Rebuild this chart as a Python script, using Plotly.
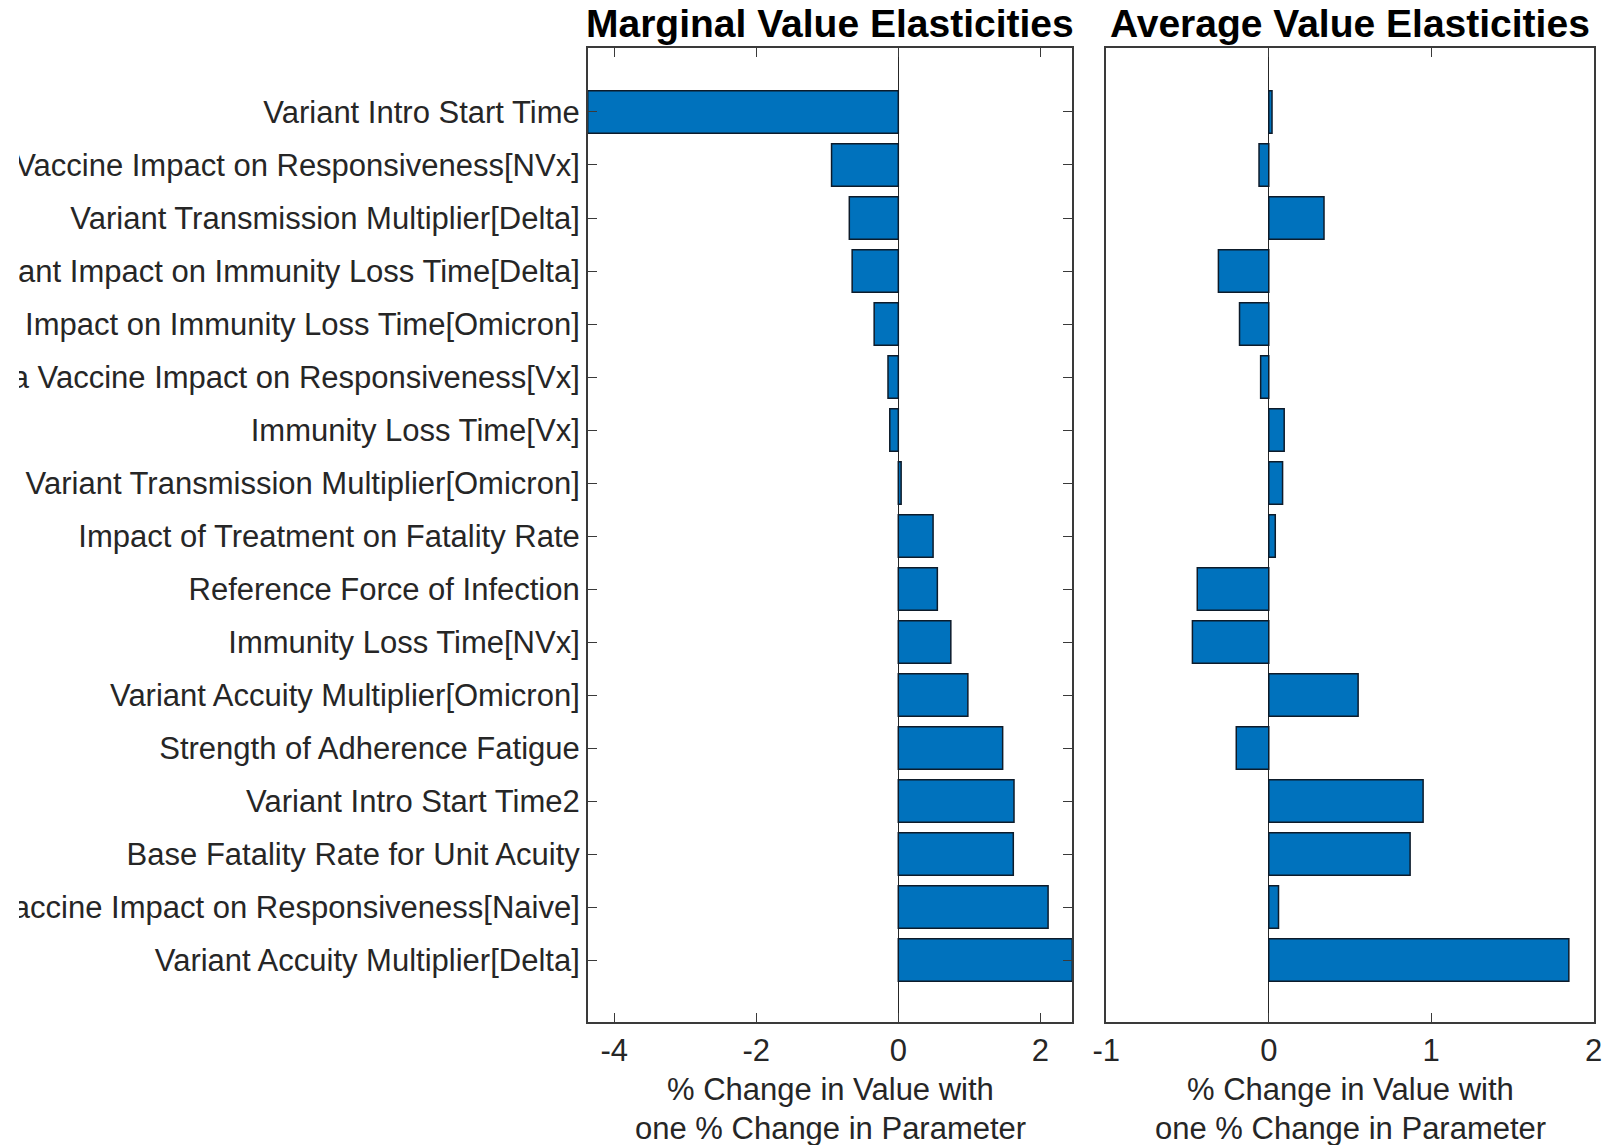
import plotly.graph_objects as go

categories = [
    "Variant Intro Start Time",
    "Vaccine Impact on Responsiveness[NVx]",
    "Variant Transmission Multiplier[Delta]",
    "ant Impact on Immunity Loss Time[Delta]",
    "Impact on Immunity Loss Time[Omicron]",
    "a Vaccine Impact on Responsiveness[Vx]",
    "Immunity Loss Time[Vx]",
    "Variant Transmission Multiplier[Omicron]",
    "Impact of Treatment on Fatality Rate",
    "Reference Force of Infection",
    "Immunity Loss Time[NVx]",
    "Variant Accuity Multiplier[Omicron]",
    "Strength of Adherence Fatigue",
    "Variant Intro Start Time2",
    "Base Fatality Rate for Unit Acuity",
    "accine Impact on Responsiveness[Naive]",
    "Variant Accuity Multiplier[Delta]",
]

marginal = [-4.375, -0.94, -0.69, -0.65, -0.34, -0.145, -0.12, 0.04, 0.49, 0.55,
            0.74, 0.98, 1.47, 1.63, 1.62, 2.11, 2.451]
average = [0.02, -0.06, 0.34, -0.31, -0.18, -0.05, 0.095, 0.085, 0.04, -0.44,
           -0.47, 0.55, -0.2, 0.95, 0.87, 0.06, 1.847]

marginal_ticks = [-4, -2, 0, 2]
marginal_ticktext = ["-4", "-2", "0", "2"]
average_ticks = [-1, 0, 1, 2]
average_ticktext = ["-1", "0", "1", "2"]

W, H = 1611, 1145
FONT = "Liberation Sans, Arial, Helvetica, sans-serif"
TXT = "#262626"
BAR = "#0072BD"
EDGE = "#0d1b2a"
AX = "#3a3a3a"

x1 = [587.7 / W, 1072.3 / W]
x2 = [1106.3 / W, 1593.7 / W]
yd = [1 - 1022.3 / H, 1 - 47.7 / H]

fig = go.Figure()
fig.add_trace(go.Bar(x=marginal, y=categories, orientation="h", width=0.8,
                     marker=dict(color=BAR, line=dict(color=EDGE, width=1.5)),
                     xaxis="x", yaxis="y", showlegend=False))
fig.add_trace(go.Bar(x=average, y=categories, orientation="h", width=0.8,
                     marker=dict(color=BAR, line=dict(color=EDGE, width=1.5)),
                     xaxis="x2", yaxis="y2", showlegend=False))

common_x = dict(showgrid=False, showline=True, linecolor=AX, linewidth=1.5,
                mirror="ticks", ticks="inside", ticklen=10, tickwidth=1.2,
                tickcolor=AX, zeroline=True, zerolinecolor=TXT, zerolinewidth=1.2,
                automargin=False,
                tickfont=dict(size=31, color=TXT, family=FONT))
yrange = [16 + 1.175, -1.213]

fig.update_layout(
    width=W, height=H,
    margin=dict(l=0, r=0, t=0, b=0, autoexpand=False),
    paper_bgcolor="white", plot_bgcolor="white",
    bargap=0.2,
    font=dict(family=FONT, color=TXT, size=31),
    xaxis=dict(domain=x1, range=[-4.375, 2.451], tickvals=marginal_ticks,
               ticktext=marginal_ticktext, anchor="y", **common_x),
    xaxis2=dict(domain=x2, range=[-1, 2], tickvals=average_ticks,
                ticktext=average_ticktext, anchor="y2", **common_x),
    yaxis=dict(domain=yd, type="category", categoryarray=categories,
               range=yrange, showgrid=False, showline=True, linecolor=AX,
               linewidth=1.5, mirror="ticks", ticks="inside", ticklen=10,
               tickwidth=1.2, tickcolor=AX, zeroline=False, automargin=False,
               tickfont=dict(size=31, color=TXT, family=FONT), anchor="x"),
    yaxis2=dict(domain=yd, type="category", categoryarray=categories,
                range=yrange, showgrid=False, showline=True, linecolor=AX,
                linewidth=1.5, mirror=True, ticks="", showticklabels=False,
                zeroline=False, automargin=False, anchor="x2"),
)

# the source image is cropped at the left, clipping the first letters of long labels
fig.add_shape(type="rect", xref="paper", yref="paper", x0=0, x1=19 / W, y0=0, y1=1,
              fillcolor="white", line=dict(width=0), layer="above")

for dom, title in [(x1, "Marginal Value Elasticities"), (x2, "Average Value Elasticities")]:
    cx = (dom[0] + dom[1]) / 2
    fig.add_annotation(x=cx, y=1 - 23 / H, xref="paper", yref="paper",
                       text="<b>" + title + "</b>", showarrow=False,
                       xanchor="center", yanchor="middle",
                       font=dict(size=39, color="black", family=FONT))
    fig.add_annotation(x=cx, y=1 - 1089 / H, xref="paper", yref="paper",
                       text="% Change in Value with", showarrow=False,
                       xanchor="center", yanchor="middle",
                       font=dict(size=31, color=TXT, family=FONT))
    fig.add_annotation(x=cx, y=1 - 1128 / H, xref="paper", yref="paper",
                       text="one % Change in Parameter", showarrow=False,
                       xanchor="center", yanchor="middle",
                       font=dict(size=31, color=TXT, family=FONT))

fig.write_html("out.html", config={"displayModeBar": False},
               post_script="document.body.style.margin='0';document.body.style.overflow='hidden';")
